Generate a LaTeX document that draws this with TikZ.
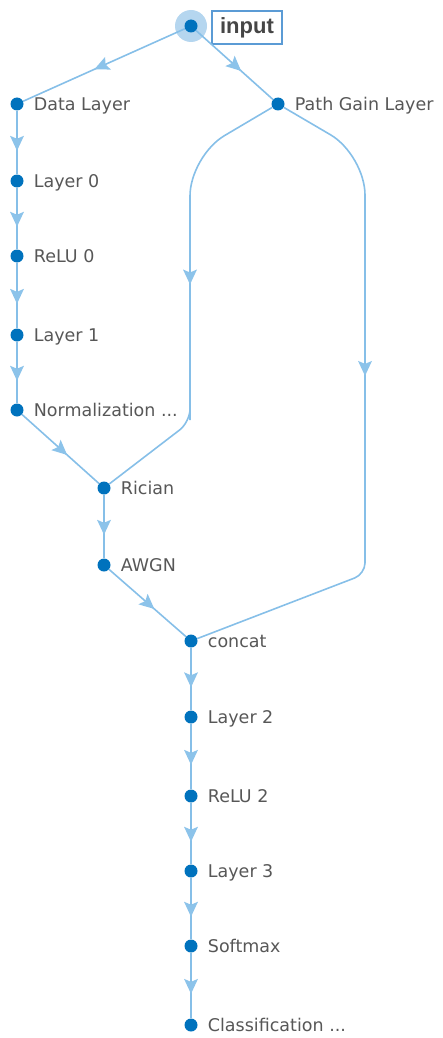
\documentclass[tikz,border=0pt]{standalone}
\usepackage{fontspec}
\setmainfont{DejaVu Sans}
\newfontfamily\inputfont{Liberation Sans}
\usetikzlibrary{decorations.markings}
\definecolor{dotblue}{HTML}{0072BD}
\definecolor{edgeblue}{HTML}{86BFE8}
\definecolor{arrowblue}{HTML}{8CC3EA}
\definecolor{halo}{HTML}{B5D6EF}
\definecolor{txtgray}{HTML}{575757}
\definecolor{boxblue}{HTML}{5B9BD5}
\begin{document}
\begin{tikzpicture}[x=1pt,y=-1pt,
  label distance=10pt,
  lbl/.style={text=txtgray,font=\fontsize{17.5}{19}\selectfont,inner sep=0pt,text height=12.5pt,text depth=0pt},
  lay/.style={circle,fill=dotblue,inner sep=0pt,minimum size=13pt,label={[lbl]right:#1}},
  conn/.style={draw=edgeblue,line width=1.6pt,
    postaction={decorate,decoration={markings,mark=at position #1 with {\fill[arrowblue,sharp corners] (7pt,0pt) -- (-8pt,7pt) -- (-5pt,0pt) -- (-8pt,-7pt) -- cycle;}}}},
  conn/.default=0.52]
\useasboundingbox (0,0) rectangle (443,1038);
\fill[halo] (191,26) circle (16);
\node[lay=] (in) at (191,26) {};
\node[draw=boxblue,line width=1.2pt,inner sep=0pt,minimum width=70pt,minimum height=33pt,
  text=txtgray!80!black,font=\inputfont\bfseries\fontsize{22}{24}\selectfont] (inlbl) at (247,27.5) {input};
\node[lay=Data Layer] (dl) at (17,104) {};
\node[lay=Path Gain Layer] (pg) at (278,104) {};
\node[lay=Layer 0] (l0) at (17,181) {};
\node[lay=ReLU 0] (r0) at (17,256) {};
\node[lay=Layer 1] (l1) at (17,335) {};
\node[lay=Normalization ...] (nm) at (17,410) {};
\node[lay=Rician] (ri) at (104,488) {};
\node[lay=AWGN] (aw) at (104,565) {};
\node[lay=concat] (cc) at (191,641) {};
\node[lay=Layer 2] (l2) at (191,717) {};
\node[lay=ReLU 2] (r2) at (191,796) {};
\node[lay=Layer 3] (l3) at (191,871) {};
\node[lay=Softmax] (sm) at (191,946) {};
\node[lay=Classification ...] (cl) at (191,1025) {};
\coordinate (c1) at (190,156);
\coordinate (c2) at (190,422);
\coordinate (c3) at (365,155);
\coordinate (c4) at (365,574);
\draw[conn] (in) -- (dl);
\draw[conn] (in) -- (pg);
\draw[conn] (dl) -- (l0);
\draw[conn] (l0) -- (r0);
\draw[conn] (r0) -- (l1);
\draw[conn] (l1) -- (nm);
\draw[conn] (nm) -- (ri);
\draw[conn] (ri) -- (aw);
\draw[conn] (aw) -- (cc);
\draw[conn] (cc) -- (l2);
\draw[conn] (l2) -- (r2);
\draw[conn] (r2) -- (l3);
\draw[conn] (l3) -- (sm);
\draw[conn] (sm) -- (cl);
\draw[conn=0.44,rounded corners=40pt] (pg) -- (c1) -- (190,380) [rounded corners=13pt] -- (c2) -- (ri);
\draw[conn=0.44,rounded corners=40pt] (pg) -- (c3) -- (365,500) [rounded corners=11pt] -- (c4) -- (cc);
\end{tikzpicture}
\end{document}
